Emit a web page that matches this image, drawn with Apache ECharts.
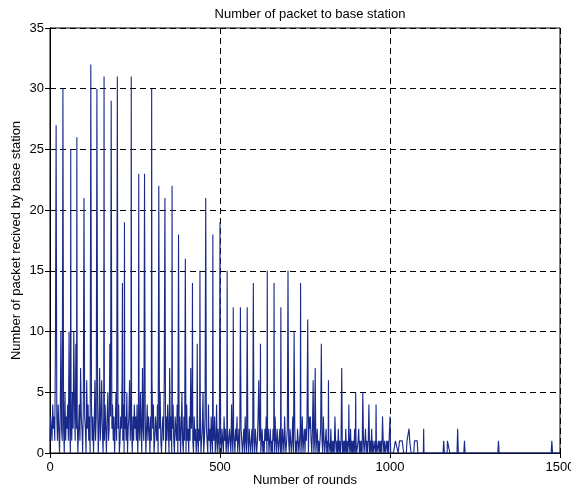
<!DOCTYPE html>
<html>
<head>
<meta charset="utf-8">
<script src="https://cdn.jsdelivr.net/npm/echarts@6/dist/echarts.min.js"></script>
<style>
  html, body { margin: 0; padding: 0; background: #fff; overflow: hidden; width: 571px; height: 491px; }
  #chart { position: absolute; left: 0; top: 0; width: 571px; height: 491px; }
</style>
</head>
<body>
<div id="chart"></div>
<script>
// ---- Data ----
const titleText = 'Number of packet to base station';
const xName = 'Number of rounds';
const yName = 'Number of packet recived by base station';
const xTicks = [0, 500, 1000, 1500];
const yTicks = [0, 5, 10, 15, 20, 25, 30, 35];

// Background packet counts, one value every 2 rounds
const noiseStep = 2;
const noiseA = [ // rounds 0..250
  1,3,2,1,4,2,3,1,9,2, 3,1,4,2,0,3,10,2,1,3, 2,0,5,1,3,2,4,1,10,2, 0,3,1,5,2,10,4,1,9,2,
  3,0,2,4,1,7,3,2,0,4, 1,3,2,0,6,2,4,1,3,0, 2,4,1,3,0,2,6,1,3,2, 4,0,2,7,1,3,6,2,0,3,
  1,4,2,0,3,5,1,2,9,3, 0,2,4,1,3,0,2,5,1,3, 2,4,0,1,3,2,6,1,4,0, 2,3,1,5,0,2,3,6,1,4,
  2,0,3,1,4,2];
const noiseB = [ // rounds 252..500
  3,1,4,0,2,3,1,5,2,0, 7,2,1,5,3,0,2,4,1,3, 2,0,3,1,6,2,4,0,1,3, 2,1,4,0,3,2,5,1,0,2,
  3,1,6,2,0,3,1,4,2,0, 7,1,3,0,2,4,1,0,3,2, 1,4,0,2,1,3,0,2,5,1, 0,3,1,2,0,4,1,2,0,3,
  1,0,2,4,1,0,3,1,2,0, 1,3,0,2,1,4,0,1,2,5, 0,1,3,0,2,1,0,4,1,2, 0,3,1,0,2,1,3,0,1,4,
  0,2,1,0,3];
const noiseC = [ // rounds 502..750
  1,0,2,1,0,3,1,2,0,1, 2,0,1,2,1,0,4,1,0,2, 1,0,2,1,3,0,1,2,0,1, 2,1,0,1,2,0,3,1,0,2,
  1,0,2,1,0,1,2,0,4,1, 0,2,1,0,1,3,0,1,2,0, 1,2,0,1,0,2,1,3,0,1, 2,0,1,2,0,1,0,2,1,0,
  3,1,0,2,1,0,1,2,0,1, 0,2,1,0,3,1,0,1,2,0, 1,0,2,1,0,1,3,0,1,2, 0,1,0,2,1,0,1,2,0,1,
  3,0,1,2,0];
const noiseD = [ // rounds 752..1000
  2,1,3,3,0,3,2,3,1,0, 2,1,0,1,3,0,1,2,0,1, 0,1,2,0,1,0,3,1,0,1, 2,0,1,0,1,1,0,2,0,1,
  0,1,0,3,1,0,1,0,2,0, 1,0,1,2,0,1,0,1,0,2, 0,1,0,1,1,0,2,0,1,0, 1,0,2,0,1,0,0,1,2,0,
  1,0,1,0,1,1,0,0,2,0, 1,0,1,0,0,1,0,2,0,1, 0,0,1,0,1,0,0,1,0,1, 0,1,0,0,1,0,1,0,0,1,
  0,1,0,0,0];
const noiseE = [ // rounds 1002..1100
  0,0,0,0,0, 0,0,1,1,1,1,0,0,1,1, 1,1,1,1,0,0,0,0,0,1, 1,1,2,1,1,0,0,0,0,0,
  1,1,1,1,1,0,0,0,0,0, 0,0,0,0,0];

// Large peaks (round, packets)
const peakRounds = [18,38,61,79,100,120,138,159,180,198,213,219,239,261,278,299,320,338,359,378,
                    398,414,419,433,441,458,479,500,521,539,560,580,598,614,619,639,659,679,700,718,
                    737,758,774,780,798,819,858,879,899,920,938,959,978,1000,1099];
const peakValues = [27,30,25,26,21,32,30,31,29,31,14,19,31,23,23,30,22,21,22,18,
                    16,7,14,9,15,21,18,19,15,12,12,12,14,6,9,15,14,12,15,10,
                    14,11,6,7,9,6,7,4,5,5,4,4,3,3,2];

// Sparse late rounds (round, packets)
const tailRounds = [1104,1156,1158,1160,1168,1169,1174,1176,1197,1199,1201,1217,1219,1221,1317,1319,1321,1474,1476,1478,1500];
const tailValues = [0,0,1,0,0,1,1,0,0,2,0,0,1,0,0,1,0,0,1,0,0];

// ---- Build the series ----
const pts = new Map();
const noise = noiseA.concat(noiseB, noiseC, noiseD, noiseE);
noise.forEach((v, i) => pts.set(i * noiseStep, v));
peakRounds.forEach((r, i) => pts.set(r, peakValues[i]));
tailRounds.forEach((r, i) => pts.set(r, tailValues[i]));
const seriesData = Array.from(pts.entries()).sort((a, b) => a[0] - b[0]);

const FONT = 'Liberation Sans, Arial, Helvetica, sans-serif';
const chart = echarts.init(document.getElementById('chart'), null, { renderer: 'canvas', width: 571, height: 491 });

const tickStyle = { show: true, inside: true, length: 5, lineStyle: { color: '#000', width: 1 } };
const gridDash = { show: true, lineStyle: { color: '#000', type: [6, 4], width: 1 } };

chart.setOption({
  animation: false,
  backgroundColor: '#fff',
  title: {
    text: titleText, left: 305, top: 3, textAlign: 'center',
    textStyle: { fontFamily: FONT, fontSize: 13, fontWeight: 'normal', color: '#000' }
  },
  grid: { left: 50, right: 11, top: 28, bottom: 38, show: true, borderColor: '#000', borderWidth: 1,
          containLabel: false, outerBoundsMode: 'none' },
  xAxis: [{
    type: 'value', min: xTicks[0], max: xTicks[xTicks.length - 1], interval: 500, position: 'bottom',
    axisLine: { show: true, lineStyle: { color: '#000' } },
    axisTick: tickStyle,
    axisLabel: { color: '#000', fontFamily: FONT, fontSize: 13, margin: 8, formatter: v => String(v),
                 hideOverlap: false },
    splitLine: gridDash,
    name: xName, nameLocation: 'middle', nameGap: 21, nameMoveOverlap: false,
    nameTextStyle: { color: '#000', fontFamily: FONT, fontSize: 13, verticalAlign: 'top' }
  }, {
    type: 'value', min: xTicks[0], max: xTicks[xTicks.length - 1], interval: 500, position: 'top',
    axisLine: { show: true, lineStyle: { color: '#000' } },
    axisTick: tickStyle, axisLabel: { show: false }, splitLine: { show: false }
  }],
  yAxis: [{
    type: 'value', min: yTicks[0], max: yTicks[yTicks.length - 1], interval: 5, position: 'left',
    axisLine: { show: true, lineStyle: { color: '#000' } },
    axisTick: tickStyle,
    axisLabel: { color: '#000', fontFamily: FONT, fontSize: 13, margin: 6, formatter: v => String(v) },
    splitLine: gridDash,
    name: yName, nameLocation: 'middle', nameGap: 27, nameRotate: 90, nameMoveOverlap: false,
    nameTextStyle: { color: '#000', fontFamily: FONT, fontSize: 13 }
  }, {
    type: 'value', min: yTicks[0], max: yTicks[yTicks.length - 1], interval: 5, position: 'right',
    axisLine: { show: true, lineStyle: { color: '#000' } },
    axisTick: tickStyle, axisLabel: { show: false }, splitLine: { show: false }
  }],
  series: [{
    type: 'line', xAxisIndex: 0, yAxisIndex: 0,
    data: seriesData, showSymbol: false, symbol: 'none', sampling: null,
    lineStyle: { color: '#18298a', width: 1.1 }, clip: false, z: 5
  }]
});
</script>
</body>
</html>
